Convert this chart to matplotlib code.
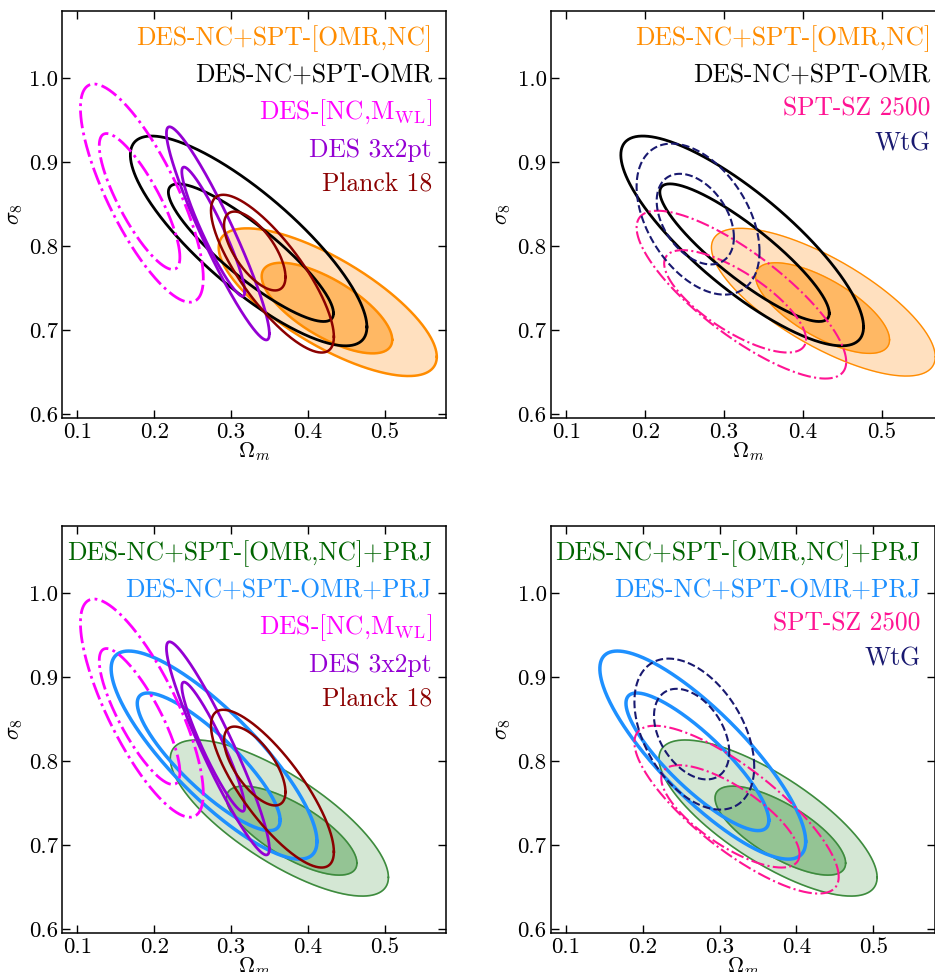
import matplotlib
matplotlib.use("Agg")
import matplotlib.pyplot as plt
from matplotlib.lines import Line2D
import numpy as np

plt.rcParams.update({"font.family": "cmr10", "mathtext.fontset": "cm",
                     "axes.formatter.use_mathtext": True, "axes.unicode_minus": False})

# contour ellipses: (centre Om, centre s8, half-extent Om, half-extent s8, correlation)
NCOMR_68 = [0.425, 0.726, 0.085, 0.054, -0.70]      # DES-NC+SPT-[OMR,NC]
NCOMR_95 = [0.426, 0.733, 0.142, 0.088, -0.74]
OMR_68 = [0.326, 0.792, 0.1075, 0.082, -0.88]       # DES-NC+SPT-OMR
OMR_95 = [0.323, 0.806, 0.154, 0.125, -0.82]
DESWL_68 = [0.181, 0.853, 0.0525, 0.081, -0.82]     # DES-[NC,M_WL]
DESWL_95 = [0.184, 0.863, 0.080, 0.130, -0.78]
X2PT_68 = [0.277, 0.817, 0.041, 0.077, -0.93]       # DES 3x2pt
X2PT_95 = [0.283, 0.815, 0.067, 0.127, -0.94]
PLANCK_68 = [0.331, 0.794, 0.040, 0.047, -0.66]     # Planck 18
PLANCK_95 = [0.354, 0.767, 0.080, 0.094, -0.80]
SPTSZ_68 = [0.314, 0.734, 0.090, 0.061, -0.74]      # SPT-SZ 2500
SPTSZ_95 = [0.322, 0.742, 0.133, 0.100, -0.80]
WTG_68 = [0.2635, 0.832, 0.049, 0.054, -0.40]       # WtG
WTG_95 = [0.267, 0.832, 0.078, 0.090, -0.43]
PRJ_68 = [0.379, 0.717, 0.085, 0.053, -0.73]        # DES-NC+SPT-[OMR,NC]+PRJ
PRJ_95 = [0.363, 0.732, 0.142, 0.093, -0.76]
OMRPRJ_68 = [0.271, 0.799, 0.093, 0.082, -0.85]     # DES-NC+SPT-OMR+PRJ
OMRPRJ_95 = [0.278, 0.807, 0.134, 0.124, -0.83]

X_TICKS = [0.1, 0.2, 0.3, 0.4, 0.5]
Y_TICKS = [0.6, 0.7, 0.8, 0.9, 1.0]

ORANGE, GREEN_TXT, BLUE = "#FF8C00", "#006400", "#1E90FF"
MAGENTA, PURPLE, DRED = "#FF00FF", "#9400D3", "#8B0000"
PINK, NAVY, BLACK = "#FF1493", "#191970", "k"


def ellipse(p, n=400):
    cx, cy, sx, sy, rho = p
    cov = np.array([[sx**2, rho*sx*sy], [rho*sx*sy, sy**2]])
    L = np.linalg.cholesky(cov)
    t = np.linspace(0, 2*np.pi, n)
    xy = L @ np.vstack([np.cos(t), np.sin(t)])
    return xy[0] + cx, xy[1] + cy


def filled(ax, p68, p95, c_out, c_in, edge, lw=1.3):
    x, y = ellipse(p95)
    ax.fill(x, y, color=c_out, zorder=1)
    ax.plot(x, y, color=edge, lw=lw, zorder=1.1)
    x, y = ellipse(p68)
    ax.fill(x, y, color=c_in, zorder=1.2)
    ax.plot(x, y, color=edge, lw=lw, zorder=1.3)


def lines(ax, p68, p95, color, lw=2.0, ls="-"):
    for p in (p95, p68):
        x, y = ellipse(p)
        ax.plot(x, y, color=color, lw=lw, ls=ls, zorder=2)


def style(ax, labels, colors):
    ax.set_xlim(0.08, 0.58); ax.set_ylim(0.595, 1.08)
    ax.set_xticks(X_TICKS); ax.set_yticks(Y_TICKS)
    ax.set_xticklabels([f"{v:.1f}" for v in X_TICKS])
    ax.set_yticklabels([f"{v:.1f}" for v in Y_TICKS])
    ax.tick_params(direction="in", top=True, right=True, length=6, width=1,
                   labelsize=16.5, pad=3)
    for s in ax.spines.values(): s.set_linewidth(1.1)
    ax.set_xlabel(r"$\Omega_m$", fontsize=16, labelpad=-1)
    ax.set_ylabel(r"$\sigma_8$", fontsize=16, labelpad=3)
    handles = [Line2D([], [], color=c) for c in colors]
    leg = ax.legend(handles, labels, loc="upper right", frameon=False, markerfirst=False,
                    handlelength=0, handletextpad=0, fontsize=18.4, labelcolor=colors,
                    borderaxespad=0.15, labelspacing=0.42)
    leg.set_zorder(5)


W, H = 935, 972
fig = plt.figure(figsize=(W/100, H/100), dpi=100)
ax1 = fig.add_axes([62/W, 1-418/H, 384/W, 407/H])
ax2 = fig.add_axes([550.7/W, 1-418/H, 394/W, 407/H])
ax3 = fig.add_axes([62/W, 1-933/H, 384/W, 407/H])
ax4 = fig.add_axes([550.7/W, 1-933/H, 384/W, 407/H])

WL = r"DES-[NC,M$_{\rm WL}$]"

# top left
filled(ax1, NCOMR_68, NCOMR_95, "#FFE0BF", "#FFB864", ORANGE, lw=1.8)
lines(ax1, OMR_68, OMR_95, BLACK, lw=2.0)
lines(ax1, DESWL_68, DESWL_95, MAGENTA, lw=2.0, ls="-.")
lines(ax1, X2PT_68, X2PT_95, PURPLE, lw=2.0)
lines(ax1, PLANCK_68, PLANCK_95, DRED, lw=1.8)
style(ax1, ["DES-NC+SPT-[OMR,NC]", "DES-NC+SPT-OMR", WL, "DES 3x2pt", "Planck 18"],
      [ORANGE, BLACK, MAGENTA, PURPLE, DRED])

# top right
filled(ax2, NCOMR_68, NCOMR_95, "#FFE0BF", "#FFB864", ORANGE, lw=1.0)
lines(ax2, OMR_68, OMR_95, BLACK, lw=2.0)
lines(ax2, SPTSZ_68, SPTSZ_95, PINK, lw=1.5, ls="-.")
lines(ax2, WTG_68, WTG_95, NAVY, lw=1.5, ls="--")
style(ax2, ["DES-NC+SPT-[OMR,NC]", "DES-NC+SPT-OMR", "SPT-SZ 2500", "WtG"],
      [ORANGE, BLACK, PINK, NAVY])

# bottom left
filled(ax3, PRJ_68, PRJ_95, "#D4E7D4", "#94C494", "#3D8B3D", lw=1.2)
lines(ax3, OMRPRJ_68, OMRPRJ_95, BLUE, lw=2.5)
lines(ax3, DESWL_68, DESWL_95, MAGENTA, lw=2.0, ls="-.")
lines(ax3, X2PT_68, X2PT_95, PURPLE, lw=2.0)
lines(ax3, PLANCK_68, PLANCK_95, DRED, lw=1.8)
style(ax3, ["DES-NC+SPT-[OMR,NC]+PRJ", "DES-NC+SPT-OMR+PRJ", WL, "DES 3x2pt", "Planck 18"],
      [GREEN_TXT, BLUE, MAGENTA, PURPLE, DRED])

# bottom right
filled(ax4, PRJ_68, PRJ_95, "#D4E7D4", "#94C494", "#3D8B3D", lw=1.2)
lines(ax4, OMRPRJ_68, OMRPRJ_95, BLUE, lw=2.5)
lines(ax4, SPTSZ_68, SPTSZ_95, PINK, lw=1.5, ls="-.")
lines(ax4, WTG_68, WTG_95, NAVY, lw=1.5, ls="--")
style(ax4, ["DES-NC+SPT-[OMR,NC]+PRJ", "DES-NC+SPT-OMR+PRJ", "SPT-SZ 2500", "WtG"],
      [GREEN_TXT, BLUE, PINK, NAVY])

fig.savefig("out.png", dpi=100)
